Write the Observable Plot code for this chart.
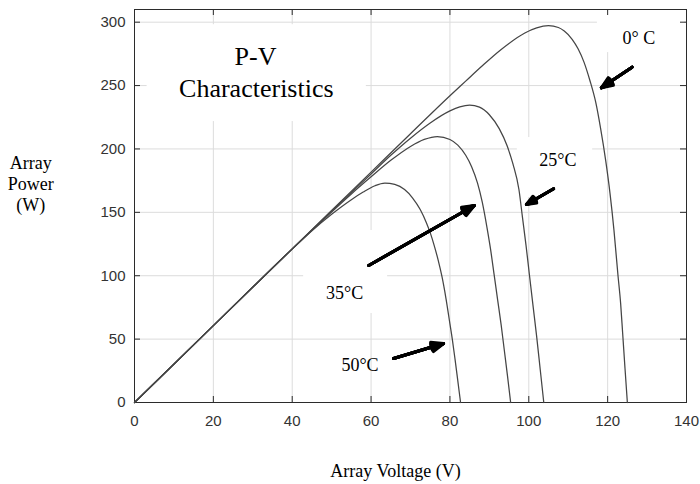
<!DOCTYPE html>
<html><head><meta charset="utf-8">
<script src="https://cdn.jsdelivr.net/npm/d3@7"></script>
<script src="https://cdn.jsdelivr.net/npm/@observablehq/plot@0.6"></script>
<style>body{margin:0;background:#fff;}</style>
</head><body><div id="chart"></div>
<script>
// ---- data ----
const xTicks = [0, 20, 40, 60, 80, 100, 120, 140];
const yTicks = [0, 50, 100, 150, 200, 250, 300];

// [Array Voltage (V), Array Power (W)]
const curve0C = [[0,0],[20,60.6],[40,121.2],[60,181.7],[70,212],[80,242],[84,253.5],[88,265],[93,278.5],[99,291.5],[102,295.5],[105,297.2],[107.5,295.8],[109,293],[111,286.5],[112.5,279],[114,268.5],[115.5,254],[117,236.5],[118.2,216.5],[119.5,191],[120.6,165],[121.6,136],[122.6,101],[123.3,78],[123.8,55],[124.4,27],[125,0]];
const curve25C = [[0,0],[20,60.6],[40,121.2],[50,151],[60,180.3],[65,195],[70,208.5],[75,220.5],[80,230],[82.5,233.2],[85,234.6],[87.5,233],[90,227],[92.5,216],[94.5,202.5],[96,188],[97.5,168],[98.4,146],[99.3,124],[100.15,101],[101.05,77],[102,52],[102.9,26],[103.8,0]];
const curve35C = [[0,0],[20,60.6],[40,121.2],[50,150.3],[55,164.5],[60,178],[65,191],[70,202],[73.5,207.5],[76.8,209.8],[80,207.5],[82,203],[84,195],[85.5,186],[87,173],[88.2,158],[89.4,138],[90.3,121],[91.2,101],[92.1,81],[93,61],[93.8,41],[94.6,21],[95.4,0]];
const curve50C = [[0,0],[20,60.6],[40,121],[45,135.5],[50,148.5],[55,160],[58,166],[61,171],[63.5,173],[66,172],[68.5,168],[70.5,161.5],[72.5,152],[74,142],[75.1,133],[76,124],[77,112.5],[78,99],[79,82],[80,62],[80.6,50],[81.3,34],[82,17],[82.7,0]];

const seriesNames = ["0° C", "25°C", "35°C", "50°C"];
const seriesCurves = [curve0C, curve25C, curve35C, curve50C];

// annotations (data units)
const titleLines = ["P-V", "Characteristics"];
const titleX = [30.7, 30.9];
const titleY = [266.4, 240.8];
const labelX = [127.9, 107.4, 53.3, 57.2];
const labelY = [282.9, 186.4, 81.8, 24.7];
const arrowFrom = [[126.2, 264.5], [106.3, 168.6], [59.4, 108.1], [65.7, 34.7]];
const arrowTo = [[118.4, 248.2], [99.4, 156.2], [86.2, 155.4], [78.4, 46.5]];
const boxV = [[3.2, 58.8], [117.4, 139.5], [97.1, 116.2], [42.9, 64.2]];
const boxP = [[221.6, 298], [276, 309], [161.7, 209], [70.2, 135.7]];

// ---- build tables ----
const lineData = seriesCurves.flatMap((c, i) => c.map(([v, p]) => ({series: seriesNames[i], v, p})));
const titles = titleLines.map((t, i) => ({text: t, x: titleX[i], y: titleY[i]}));
const labels = seriesNames.map((t, i) => ({text: t, x: labelX[i], y: labelY[i]}));
const arrows = arrowFrom.map((f, i) => ({x1: f[0], y1: f[1], x2: arrowTo[i][0], y2: arrowTo[i][1]}));
const boxes = boxV.map((b, i) => ({x1: b[0], x2: b[1], y1: boxP[i][0], y2: boxP[i][1]}));

const W = 700, H = 484, mL = 134, mR = 14, mT = 9, mB = 82;
const iW = W - mL - mR, iH = H - mT - mB;
const serif = "'Liberation Serif','Times New Roman',serif";
const ink = "#2b2b2b";
const tk = 6;

const arrowMarks = [44, 34, 24, 14, 6].map(a => Plot.arrow(arrows, {
  x1: "x1", y1: "y1", x2: "x2", y2: "y2",
  stroke: "black", strokeWidth: 3, headLength: 6.5, headAngle: a, strokeLinejoin: "miter"
}));

const chart = Plot.plot({
  width: W, height: H,
  marginLeft: mL, marginRight: mR, marginTop: mT, marginBottom: mB,
  x: {domain: [0, 140]},
  y: {domain: [0, 310]},
  style: {fontFamily: "'Liberation Sans',Arial,sans-serif", fontSize: "15px", color: "#333", background: "white"},
  marks: [
    Plot.gridX(xTicks, {stroke: "#dcdcdc", strokeOpacity: 1}),
    Plot.gridY(yTicks, {stroke: "#dcdcdc", strokeOpacity: 1}),
    Plot.rect(boxes, {x1: "x1", x2: "x2", y1: "y1", y2: "y2", fill: "white"}),
    // inward ticks on all four sides
    Plot.ruleX(xTicks, {stroke: ink, insetTop: iH - tk}),
    Plot.ruleX(xTicks, {stroke: ink, insetBottom: iH - tk}),
    Plot.ruleY(yTicks, {stroke: ink, insetRight: iW - tk}),
    Plot.ruleY(yTicks, {stroke: ink, insetLeft: iW - tk}),
    Plot.frame({stroke: ink, strokeWidth: 1}),
    Plot.axisX(xTicks, {tickSize: 0, tickPadding: 13, label: null, color: "#333"}),
    Plot.axisY(yTicks, {tickSize: 0, tickPadding: 9, label: null, color: "#333"}),
    Plot.line(lineData, {x: "v", y: "p", z: "series", stroke: "#454545", strokeWidth: 1.25, curve: "monotone-x"}),
    ...arrowMarks,
    Plot.text(titles, {x: "x", y: "y", text: "text", lineAnchor: "bottom", fontFamily: serif, fontSize: 26, fill: "black"}),
    Plot.text(labels, {x: "x", y: "y", text: "text", lineAnchor: "bottom", fontFamily: serif, fontSize: 18, fill: "black"}),
    Plot.text(["Array Voltage (V)"], {text: d => d, frameAnchor: "bottom", dx: -15, dy: 74.7, lineAnchor: "bottom", fontFamily: serif, fontSize: 18, fill: "black"}),
    Plot.text(["Array\nPower\n(W)"], {text: d => d, frameAnchor: "left", dx: -103.7, dy: 5.2, textAnchor: "middle", lineAnchor: "bottom", lineHeight: 1.18, fontFamily: serif, fontSize: 18, fill: "black"})
  ]
});
document.getElementById("chart").append(chart);
</script>
</body></html>
